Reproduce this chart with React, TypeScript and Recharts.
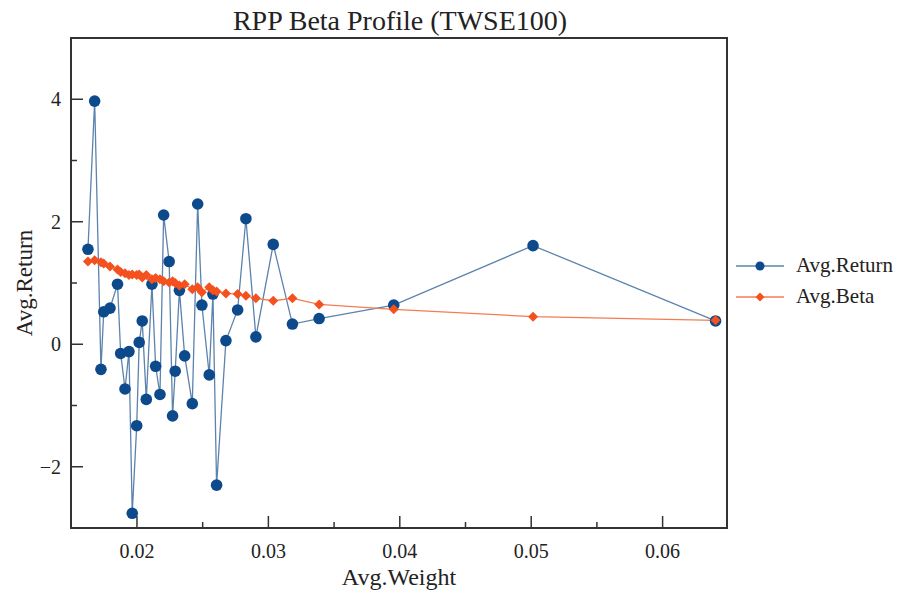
import { LineChart, Line, XAxis, YAxis, Legend, ReferenceArea } from 'recharts';

// Avg.Weight of each portfolio (x)
const weights = [
  0.01627, 0.01678, 0.01726, 0.01747, 0.01795, 0.01852, 0.01876, 0.01909, 0.01939, 0.01964,
  0.01998, 0.02017, 0.0204, 0.02071, 0.02114, 0.02142, 0.02175, 0.02203, 0.02245, 0.02271,
  0.02291, 0.02323, 0.02363, 0.02421, 0.02462, 0.02494, 0.0255, 0.02578, 0.02606, 0.02677,
  0.02766, 0.02829, 0.02905, 0.03037, 0.03183, 0.03386, 0.03954, 0.05014, 0.06403,
];

const avgReturn = [
  1.55, 3.97, -0.41, 0.53, 0.59, 0.98, -0.15, -0.73, -0.12, -2.76,
  -1.33, 0.03, 0.38, -0.9, 0.98, -0.36, -0.82, 2.11, 1.35, -1.17,
  -0.44, 0.88, -0.19, -0.97, 2.29, 0.64, -0.5, 0.82, -2.3, 0.06,
  0.56, 2.05, 0.12, 1.63, 0.33, 0.42, 0.64, 1.61, 0.38,
];

const avgBeta = [
  1.35, 1.37, 1.34, 1.32, 1.27, 1.22, 1.18, 1.16, 1.13, 1.14,
  1.13, 1.14, 1.09, 1.13, 1.06, 1.08, 1.06, 1.03, 1.01, 1.03,
  1.0, 0.96, 0.98, 0.9, 0.93, 0.85, 0.93, 0.88, 0.86, 0.83,
  0.82, 0.79, 0.75, 0.71, 0.75, 0.65, 0.57, 0.45, 0.39,
];

const xTicks = [0.02, 0.025, 0.03, 0.035, 0.04, 0.045, 0.05, 0.055, 0.06];
const xMajor = [0.02, 0.03, 0.04, 0.05, 0.06];
const yTicks = [-2, -1, 0, 1, 2, 3, 4];
const yMajor = [-2, 0, 2, 4];

const data = weights.map((w, i) => ({ w, ret: avgReturn[i], beta: avgBeta[i] }));

const FONT = '"Liberation Serif", "DejaVu Serif", serif';
const AXIS = '#333';
const BLUE = '#0d4a8c';
const BLUE_LINE = '#5b83ad';
const ORANGE = '#f4511e';
const ORANGE_LINE = '#f47c52';
const X_MARGIN = 14;
const Y_MARGIN = 10;

const isMajor = (list: number[], v: number) => list.some((m) => Math.abs(m - v) < 1e-9);

const XTick = (props: any) => {
  const { x, y, payload } = props;
  const base = y - X_MARGIN;
  const major = isMajor(xMajor, payload.value);
  return (
    <g>
      <line x1={x} x2={x} y1={base} y2={base - (major ? 12 : 6)} stroke={AXIS} strokeWidth={1.5} />
      {major && (
        <text x={x} y={y} dy="0.8em" textAnchor="middle" fontFamily={FONT} fontSize={20} fill="#222">
          {payload.value.toFixed(2)}
        </text>
      )}
    </g>
  );
};

const YTick = (props: any) => {
  const { x, y, payload } = props;
  const base = x + Y_MARGIN;
  const v = payload.value;
  const major = isMajor(yMajor, v);
  return (
    <g>
      <line x1={base} x2={base + (major ? 12 : 6)} y1={y} y2={y} stroke={AXIS} strokeWidth={1.5} />
      {major && (
        <text x={x} y={y} dy="0.35em" textAnchor="end" fontFamily={FONT} fontSize={20} fill="#222">
          {v < 0 ? `\u2212${-v}` : `${v}`}
        </text>
      )}
    </g>
  );
};

const diamondPoints = (cx: number, cy: number, s: number) =>
  `${cx},${cy - s} ${cx + s},${cy} ${cx},${cy + s} ${cx - s},${cy}`;

const Diamond = (props: any) => {
  const { cx, cy } = props;
  if (cx == null || cy == null) return null;
  return <polygon points={diamondPoints(cx, cy, 5)} fill={ORANGE} />;
};

const LegendBox = () => {
  const rows = [
    { name: 'Avg.Return', line: BLUE_LINE, dot: BLUE, diamond: false },
    { name: 'Avg.Beta', line: ORANGE_LINE, dot: ORANGE, diamond: true },
  ];
  return (
    <div>
      {rows.map((r) => (
        <div key={r.name} style={{ display: 'flex', alignItems: 'center', height: 31 }}>
          <svg width={62} height={14}>
            <line x1={2} x2={50} y1={7} y2={7} stroke={r.line} strokeWidth={1.5} />
            {r.diamond ? (
              <polygon points={diamondPoints(26, 7, 4.5)} fill={r.dot} />
            ) : (
              <circle cx={26} cy={7} r={4.5} fill={r.dot} />
            )}
          </svg>
          <span style={{ fontFamily: FONT, fontSize: 21, color: '#222' }}>{r.name}</span>
        </div>
      ))}
    </div>
  );
};

export default function App() {
  return (
    <div style={{ position: 'relative', width: 899, height: 592 }}>
      <style>{'body{margin:0;}'}</style>
      <LineChart
        width={899}
        height={592}
        data={data}
        margin={{ top: 38, right: 172, bottom: 4, left: 11 }}
      >
        <XAxis
          dataKey="w"
          type="number"
          domain={[0.01498, 0.0649]}
          ticks={xTicks}
          tick={<XTick />}
          tickSize={0}
          tickMargin={X_MARGIN}
          tickLine={false}
          axisLine={false}
          height={60}
          allowDataOverflow
        />
        <YAxis
          type="number"
          domain={[-3, 5]}
          ticks={yTicks}
          tick={<YTick />}
          tickSize={0}
          tickMargin={Y_MARGIN}
          tickLine={false}
          axisLine={false}
          width={60}
          allowDataOverflow
        />
        <ReferenceArea
          x1={0.01498}
          x2={0.0649}
          y1={-3}
          y2={5}
          fill="none"
          stroke={AXIS}
          strokeWidth={2}
          ifOverflow="visible"
        />
        <Line
          dataKey="ret"
          name="Avg.Return"
          stroke={BLUE_LINE}
          strokeWidth={1.3}
          dot={{ r: 5.8, fill: BLUE, stroke: 'none' }}
          activeDot={false}
          isAnimationActive={false}
        />
        <Line
          dataKey="beta"
          name="Avg.Beta"
          stroke={ORANGE_LINE}
          strokeWidth={1.3}
          dot={<Diamond />}
          activeDot={false}
          isAnimationActive={false}
        />
        <Legend
          layout="vertical"
          align="center"
          verticalAlign="middle"
          content={<LegendBox />}
          wrapperStyle={{ left: 734, top: 250, width: 160 }}
        />
        <text x={400} y={30} textAnchor="middle" fontFamily={FONT} fontSize={28} fill="#222">
          RPP Beta Profile (TWSE100)
        </text>
        <text x={399} y={585} textAnchor="middle" fontFamily={FONT} fontSize={24} fill="#222">
          Avg.Weight
        </text>
        <text
          x={0}
          y={0}
          transform="translate(32,283) rotate(-90)"
          textAnchor="middle"
          fontFamily={FONT}
          fontSize={23}
          fill="#222"
        >
          Avg.Return
        </text>
      </LineChart>
    </div>
  );
}
